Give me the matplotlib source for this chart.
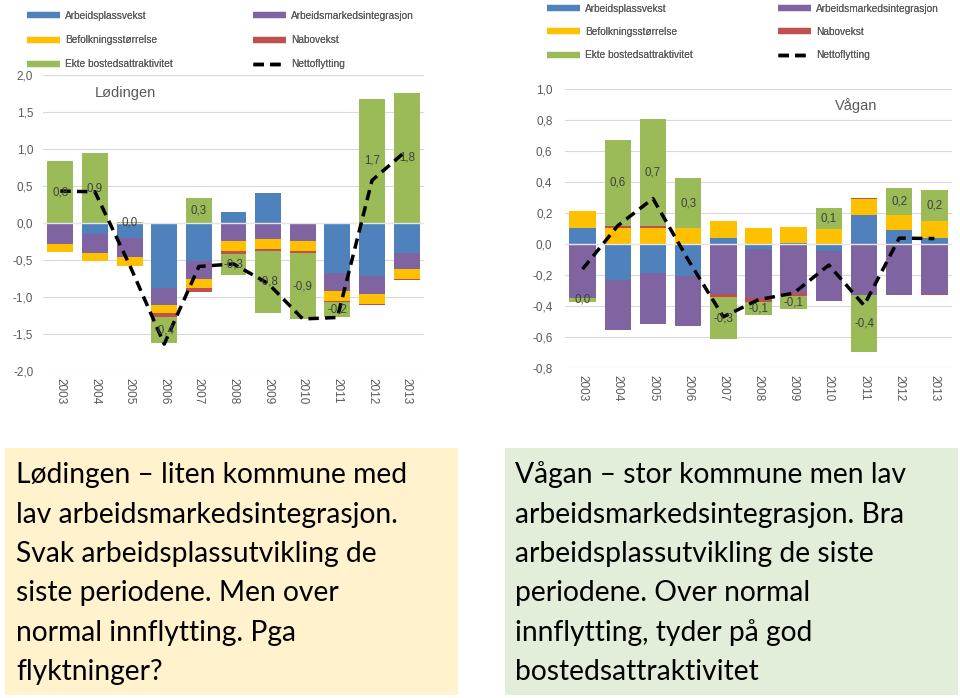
import numpy as np
import matplotlib
matplotlib.use("Agg")
import matplotlib.pyplot as plt
from matplotlib.lines import Line2D
from matplotlib.patches import Rectangle

years = [str(y) for y in range(2003, 2014)]
series_names = ["Arbeidsplassvekst", "Arbeidsmarkedsintegrasjon", "Befolkningsstørrelse",
                "Nabovekst", "Ekte bostedsattraktivitet"]
net_name = "Nettoflytting"
colors = ["#4F81BD", "#8064A2", "#FFC000", "#C0504D", "#9BBB59"]

# Lødingen
L_arb = [0.0, -0.15, -0.20, -0.875, -0.51, 0.145, 0.41, 0.0, -0.673, -0.72, -0.41]
L_int = [-0.29, -0.26, -0.265, -0.24, -0.245, -0.247, -0.215, -0.247, -0.246, -0.245, -0.217]
L_bef = [-0.11, -0.11, -0.117, -0.11, -0.125, -0.13, -0.135, -0.13, -0.134, -0.13, -0.13]
L_nab = [0.0, 0.0, 0.0, -0.045, -0.054, -0.044, -0.035, -0.035, -0.02, -0.015, -0.01]
L_ekte = [0.83, 0.94, 0.01, -0.36, 0.34, -0.28, -0.83, -0.89, -0.20, 1.68, 1.76]
L_net = [0.43, 0.42, -0.57, -1.64, -0.59, -0.556, -0.82, -1.30, -1.28, 0.575, 0.98]

# Vågan
R_arb = [0.108, -0.228, -0.183, -0.204, 0.041, -0.03, 0.008, -0.043, 0.187, 0.09, 0.043]
R_int = [-0.346, -0.327, -0.33, -0.32, -0.323, -0.314, -0.312, -0.323, -0.325, -0.325, -0.318]
R_bef = [0.109, 0.105, 0.105, 0.105, 0.107, 0.103, 0.104, 0.101, 0.105, 0.102, 0.107]
R_nab = [0.0, 0.011, 0.015, 0.0, -0.017, -0.028, -0.02, 0.0, 0.009, -0.005, -0.007]
R_ekte = [-0.026, 0.56, 0.686, 0.32, -0.273, -0.086, -0.088, 0.133, -0.369, 0.172, 0.203]
R_net = [-0.16, 0.12, 0.295, -0.10, -0.468, -0.357, -0.315, -0.134, -0.394, 0.04, 0.037]

L_ticks = [-2.0, -1.5, -1.0, -0.5, 0.0, 0.5, 1.0, 1.5, 2.0]
R_ticks = [-0.8, -0.6, -0.4, -0.2, 0.0, 0.2, 0.4, 0.6, 0.8, 1.0]

left_text = ["Lødingen – liten kommune med", "lav arbeidsmarkedsintegrasjon.",
             "Svak arbeidsplassutvikling de", "siste periodene. Men over",
             "normal innflytting. Pga", "flyktninger?"]
right_text = ["Vågan – stor kommune men lav", "arbeidsmarkedsintegrasjon. Bra",
              "arbeidsplassutvikling de siste", "periodene. Over normal",
              "innflytting, tyder på god", "bostedsattraktivitet"]

W, H = 960, 698
fig = plt.figure(figsize=(W / 100, H / 100), dpi=100)
fig.patch.set_facecolor("white")

GRAY = "#595959"
plt.rcParams["font.family"] = ["Liberation Sans", "DejaVu Sans"]


def fmt(v):
    s = f"{v:.1f}"
    if s == "-0.0":
        s = "0.0"
    return s.replace(".", ",")


def ax_px(x0, x1, ytop, ybot):
    return fig.add_axes([x0 / W, 1 - ybot / H, (x1 - x0) / W, (ybot - ytop) / H])


def draw_chart(ax, data, net, ticks, ylim, title, title_xy, ylab_pad):
    x = np.arange(len(years))
    pos = np.zeros(len(years))
    neg = np.zeros(len(years))
    containers = []
    for vals, c in zip(data, colors):
        v = np.array(vals)
        bottom = np.where(v >= 0, pos, neg)
        cont = ax.bar(x, v, 0.75, bottom=bottom, color=c, zorder=2, linewidth=0)
        containers.append(cont)
        pos = pos + np.where(v >= 0, v, 0)
        neg = neg + np.where(v < 0, v, 0)
    ax.bar_label(containers[-1], labels=[fmt(v) for v in data[-1]], label_type="center",
                 fontsize=8.3, color="#404040", zorder=5)
    ax.plot(x, net, color="black", lw=2.5, dashes=(3.0, 1.8), zorder=4)
    ax.set_xlim(-0.5, len(years) - 0.5)
    ax.set_ylim(*ylim)
    ax.set_yticks(ticks)
    ax.set_yticklabels([fmt(t) for t in ticks], fontsize=8.5, color=GRAY)
    ax.set_xticks(x)
    ax.set_xticklabels(years, rotation=-90, fontsize=8.5, color=GRAY, va="top")
    ax.tick_params(length=0, axis="x", pad=5)
    ax.tick_params(length=0, axis="y", pad=ylab_pad)
    ax.grid(axis="y", color="#D9D9D9", lw=0.8, zorder=0)
    ax.axhline(0, color="#E6E6E6", lw=1.0, zorder=3)
    for s in ax.spines.values():
        s.set_visible(False)
    ax.set_facecolor("none")
    ax.text(title_xy[0], title_xy[1], title, transform=fig.transFigure, fontsize=10.5,
            color=GRAY, ha="left", va="center")


axL = ax_px(43, 424, 75, 370.7)
draw_chart(axL, [L_arb, L_int, L_bef, L_nab, L_ekte], L_net, L_ticks, (-2.0, 2.0),
           "Lødingen", (95 / W, 1 - 93 / H), 7)
axR = ax_px(565, 952, 89.3, 368.3)
draw_chart(axR, [R_arb, R_int, R_bef, R_nab, R_ekte], R_net, R_ticks, (-0.8, 1.0),
           "Vågan", (835 / W, 1 - 106 / H), 9)


def handle(i):
    return Line2D([], [], color=colors[i], lw=4.5, solid_capstyle="butt")


net_handle = Line2D([], [], color="black", lw=2.5, dashes=(3.0, 1.8))


def legends(col1_x, col2_x, top_y, spacing):
    groups = [([handle(0), handle(2), handle(4)],
               [series_names[0], series_names[2], series_names[4]], col1_x),
              ([handle(1), handle(3), net_handle],
               [series_names[1], series_names[3], net_name], col2_x)]
    for hs, ls, xx in groups:
        lg = fig.legend(hs, ls, loc="upper left", bbox_to_anchor=(xx / W, 1 - top_y / H),
                        frameon=False, fontsize=7.3, labelcolor=GRAY, handlelength=3.3,
                        handletextpad=0.45, labelspacing=spacing, borderpad=0, borderaxespad=0)
        fig.add_artist(lg)


legends(27, 253, 11, 1.4)
legends(547, 778, 3.5, 1.33)

# text boxes
fig.patches.append(Rectangle((5 / W, 1 - 695 / H), 453 / W, 247 / H, transform=fig.transFigure,
                             facecolor="#FFF2CC", edgecolor="none", zorder=0))
fig.patches.append(Rectangle((505 / W, 1 - 695 / H), 453 / W, 247 / H, transform=fig.transFigure,
                             facecolor="#E3EEDA", edgecolor="none", zorder=0))
baselines = [483, 522.5, 562, 601, 640.5, 680]
for lines, x0 in ((left_text, 16), (right_text, 515)):
    for t, b in zip(lines, baselines):
        fig.text(x0 / W, 1 - b / H, t, fontsize=20.3, family=["Lato", "DejaVu Sans"],
                 color="black", ha="left", va="baseline")

fig.savefig("out.png", dpi=100)
